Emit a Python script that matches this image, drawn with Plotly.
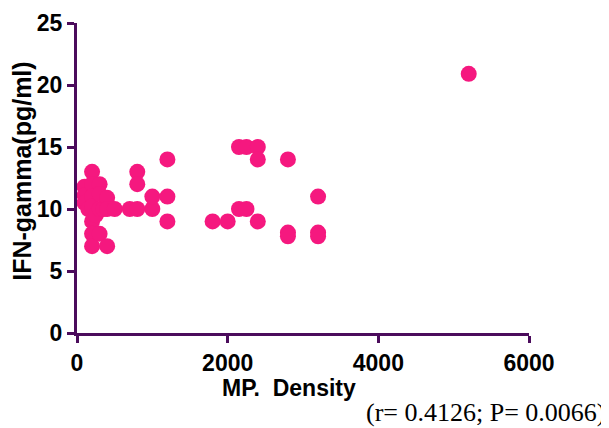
import plotly.graph_objects as go

mp_density = [100, 100, 100, 150, 200, 200, 200, 200, 200, 200, 200, 250,
              300, 300, 300, 300, 350, 400, 400, 400, 500, 700, 800, 800,
              800, 1000, 1000, 1200, 1200, 1200, 1800, 2000, 2150, 2250,
              2150, 2250, 2400, 2400, 2400, 2800, 2800, 2800, 3200, 3200,
              3200, 5200]
ifn_gamma = [11.8, 11.1, 10.5, 10.0, 13.0, 12.0, 11.0, 10.2, 9.0, 8.0, 7.0, 9.5,
             12.0, 11.2, 10.0, 8.0, 10.0, 10.9, 7.0, 10.0, 10.0, 10.0, 13.0, 12.0,
             10.0, 10.0, 11.0, 14.0, 11.0, 9.0, 9.0, 9.0, 15.0, 15.0,
             10.0, 10.0, 15.0, 14.0, 9.0, 14.0, 8.1, 7.8, 11.0, 8.1,
             7.8, 20.9]

x_ticks = [0, 2000, 4000, 6000]
y_ticks = [0, 5, 10, 15, 20, 25]

axis_color = "#4b0c5c"
pink = "#f5187f"

fig = go.Figure()
fig.add_trace(go.Scatter(
    x=mp_density, y=ifn_gamma, mode="markers",
    marker=dict(size=16, color=pink, line=dict(width=0)),
    cliponaxis=False, showlegend=False,
))

fig.update_layout(
    width=601, height=420,
    margin=dict(l=69, r=80, t=15, b=95),
    plot_bgcolor="white", paper_bgcolor="white",
    font=dict(family="Liberation Sans", color="black"),
    xaxis=dict(
        range=[0, 6000], tickvals=x_ticks, showgrid=False, zeroline=False,
        showline=True, linecolor=axis_color, linewidth=3, automargin=False,
        ticks="outside", ticklen=7, tickwidth=3, tickcolor=axis_color,
        tickfont=dict(size=23, family="Liberation Sans", weight="bold"),
    ),
    yaxis=dict(
        range=[0, 25], tickvals=y_ticks, showgrid=False, zeroline=False,
        showline=True, linecolor=axis_color, linewidth=3, automargin=False,
        ticks="outside", ticklen=7, tickwidth=3, tickcolor=axis_color,
        tickfont=dict(size=23, family="Liberation Sans", weight="bold"),
    ),
    annotations=[
        dict(
            text="<b>IFN-gamma(pg/ml)</b>", xref="paper", yref="paper",
            x=0, xshift=-55, y=0.52, xanchor="center", yanchor="middle",
            textangle=-90, showarrow=False,
            font=dict(family="Liberation Sans", size=25, color="black"),
        ),
        dict(
            text="<b>MP.  Density</b>", xref="paper", yref="paper",
            x=0.469, y=0, yshift=-55, xanchor="center", yanchor="middle",
            showarrow=False, font=dict(family="Liberation Sans", size=23, color="black"),
        ),
        dict(
            text="(r= 0.4126; P= 0.0066)", xref="paper", yref="paper",
            x=1, xshift=78, y=0, yshift=-79, xanchor="right", yanchor="middle",
            showarrow=False, font=dict(family="Liberation Serif", size=26, color="black"),
        ),
    ],
)

fig.write_html("out.html")
